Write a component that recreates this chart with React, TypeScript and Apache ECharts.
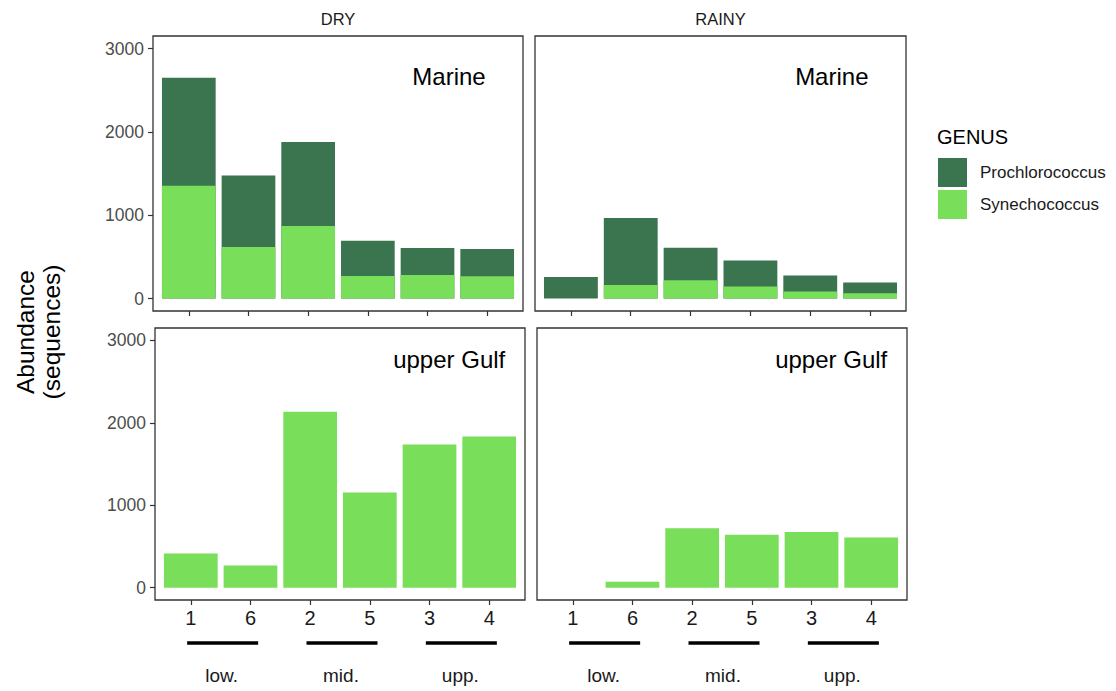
import React, { useEffect, useRef } from 'react';
import * as echarts from 'echarts';

const sites = ['1', '6', '2', '5', '3', '4'];
const seasons = ['DRY', 'RAINY'];
const regions = ['Marine', 'upper Gulf'];
const genera = ['Prochlorococcus', 'Synechococcus'];
const zones = ['low.', 'mid.', 'upp.'];
const yTicks = [0, 1000, 2000, 3000];
const xTicks = [1, 2, 3, 4, 5, 6];

// Abundance per site (in order of sites)
const dryMarinePro = [1296, 858, 1010, 423, 323, 327];
const dryMarineSyn = [1353, 618, 869, 271, 283, 267];
const rainyMarinePro = [259, 802, 391, 311, 191, 129];
const rainyMarineSyn = [0, 163, 219, 144, 84, 63];
const dryGulfPro = [0, 0, 0, 0, 0, 0];
const dryGulfSyn = [414, 269, 2135, 1154, 1737, 1834];
const rainyGulfPro = [0, 0, 0, 0, 0, 0];
const rainyGulfSyn = [0, 72, 720, 643, 676, 607];

const panelData = [
  { season: 0, region: 0, pro: dryMarinePro, syn: dryMarineSyn },
  { season: 1, region: 0, pro: rainyMarinePro, syn: rainyMarineSyn },
  { season: 0, region: 1, pro: dryGulfPro, syn: dryGulfSyn },
  { season: 1, region: 1, pro: rainyGulfPro, syn: rainyGulfSyn },
];

const regionLabelPos = [
  [5.36, 2660],
  [5.33, 2770],
];

const grids = [
  { left: 153, top: 36, width: 370, height: 275 },
  { left: 535, top: 36, width: 371, height: 275 },
  { left: 155, top: 328, width: 370, height: 272 },
  { left: 537, top: 328, width: 370, height: 272 },
];

const DARK = '#3b7550';
const LIGHT = '#79de5a';
const FONT = "'Liberation Sans', Arial, Helvetica, sans-serif";

export default function App() {
  const ref = useRef<HTMLDivElement>(null);

  useEffect(() => {
    document.body.style.margin = '0';
    const chart = echarts.init(ref.current!, null, { renderer: 'svg' });

    const series: any[] = [];
    panelData.forEach((p, i) => {
      // Prochlorococcus stacked on top of Synechococcus: drawn as the full stack height behind
      const proPts: any[] = [];
      const synPts: any[] = [];
      sites.forEach((_, k) => {
        if (p.pro[k] > 0) proPts.push([k + 1, p.pro[k] + p.syn[k]]);
        if (p.syn[k] > 0) synPts.push([k + 1, p.syn[k]]);
      });
      series.push({
        name: genera[0],
        type: 'bar',
        xAxisIndex: i,
        yAxisIndex: i,
        barWidth: '90%',
        barGap: '-100%',
        itemStyle: { color: DARK },
        data: proPts,
      });
      series.push({
        name: genera[1],
        type: 'bar',
        xAxisIndex: i,
        yAxisIndex: i,
        barWidth: '90%',
        barGap: '-100%',
        itemStyle: { color: LIGHT },
        data: synPts,
      });
    });

    const option: any = {
      animation: false,
      backgroundColor: '#ffffff',
      textStyle: { fontFamily: FONT },
      grid: grids.map((g) => ({
        ...g,
        show: true,
        borderColor: '#333333',
        borderWidth: 1.3,
        backgroundColor: '#ffffff',
        containLabel: false,
      })),
      xAxis: grids.map((_, i) => ({
        type: 'value',
        gridIndex: i,
        min: 0.4,
        max: 6.6,
        axisLine: { show: false, onZero: false },
        splitLine: { show: false },
        axisTick: {
          show: true,
          customValues: xTicks,
          length: 5,
          lineStyle: { color: '#333333', width: 1.2 },
        },
        axisLabel: {
          show: i >= 2,
          customValues: xTicks,
          formatter: (v: number) => sites[Math.round(v) - 1] ?? '',
          fontSize: 20,
          color: '#1a1a1a',
          margin: 8,
          fontFamily: FONT,
        },
      })),
      yAxis: grids.map((_, i) => ({
        type: 'value',
        gridIndex: i,
        min: -150,
        max: 3150,
        axisLine: { show: false, onZero: false },
        splitLine: { show: false },
        axisTick: {
          show: i % 2 === 0,
          customValues: yTicks,
          length: 5,
          lineStyle: { color: '#333333', width: 1.2 },
        },
        axisLabel: {
          show: i % 2 === 0,
          customValues: yTicks,
          formatter: (v: number) => String(v),
          fontSize: 17.5,
          color: '#4d4d4d',
          margin: 9,
          fontFamily: FONT,
        },
      })),
      legend: {
        data: genera,
        orient: 'vertical',
        left: 938,
        top: 158,
        padding: 0,
        itemWidth: 29,
        itemHeight: 29,
        itemGap: 3,
        icon: 'rect',
        selectedMode: false,
        textStyle: { fontSize: 17, color: '#1a1a1a', padding: [0, 0, 0, 8], fontFamily: FONT },
      },
      series,
    };

    chart.setOption(option);

    const graphic: any[] = [];
    seasons.forEach((s, i) => {
      const g = grids[i];
      graphic.push({
        type: 'text',
        x: g.left + g.width / 2,
        y: g.top - 17,
        style: { text: s, font: `16.5px ${FONT}`, fill: '#1a1a1a', align: 'center', verticalAlign: 'middle' },
      });
    });
    panelData.forEach((p, i) => {
      const pos = chart.convertToPixel({ gridIndex: i } as any, regionLabelPos[p.region]) as number[];
      graphic.push({
        type: 'text',
        x: pos[0],
        y: pos[1],
        style: { text: regions[p.region], font: `24px ${FONT}`, fill: '#000000', align: 'center', verticalAlign: 'middle' },
      });
    });
    [2, 3].forEach((gi) => {
      zones.forEach((z, zi) => {
        const a = chart.convertToPixel({ xAxisIndex: gi } as any, zi * 2 + 1) as number;
        const b = chart.convertToPixel({ xAxisIndex: gi } as any, zi * 2 + 2) as number;
        const mid = (a + b) / 2;
        graphic.push({
          type: 'line',
          shape: { x1: mid + 2 - 35.5, y1: 643, x2: mid + 2 + 35.5, y2: 643 },
          style: { stroke: '#000000', lineWidth: 3.5 },
        });
        graphic.push({
          type: 'text',
          x: mid + 1,
          y: 675,
          style: { text: z, font: `19px ${FONT}`, fill: '#1a1a1a', align: 'center', verticalAlign: 'middle' },
        });
      });
    });
    graphic.push({
      type: 'text',
      x: 38,
      y: 332,
      rotation: Math.PI / 2,
      style: {
        text: 'Abundance\n(sequences)',
        font: `24.5px ${FONT}`,
        lineHeight: 26,
        fill: '#000000',
        align: 'center',
        verticalAlign: 'middle',
      },
    });
    graphic.push({
      type: 'text',
      x: 937,
      y: 137,
      style: { text: 'GENUS', font: `20px ${FONT}`, fill: '#000000', align: 'left', verticalAlign: 'middle' },
    });

    chart.setOption({ graphic });

    return () => chart.dispose();
  }, []);

  return <div ref={ref} style={{ width: 1116, height: 691 }} />;
}
